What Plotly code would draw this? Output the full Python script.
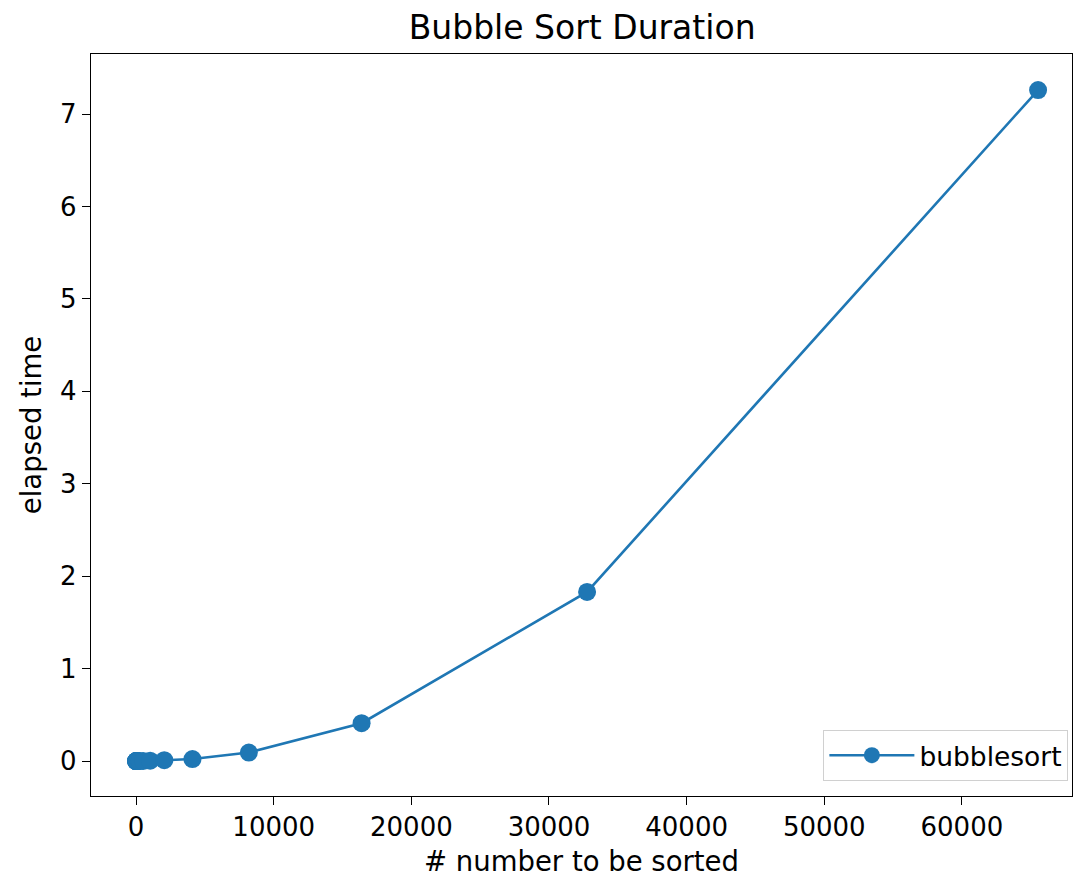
import plotly.graph_objects as go

sizes = [1, 2, 4, 8, 16, 32, 64, 128, 256, 512, 1024, 2048, 4096, 8192, 16384, 32768, 65536]
elapsed = [0.000002, 0.000003, 0.000005, 0.00001, 0.00002, 0.00005, 0.0001, 0.0002,
           0.0004, 0.0012, 0.0045, 0.009, 0.022, 0.092, 0.41, 1.83, 7.26]
x_ticks = [0, 10000, 20000, 30000, 40000, 50000, 60000]
y_ticks = [0, 1, 2, 3, 4, 5, 6, 7]

font = "DejaVu Sans"
fig = go.Figure()
fig.add_trace(go.Scatter(
    x=sizes, y=elapsed, mode="lines+markers", name="bubblesort",
    line=dict(color="#1f77b4", width=2.6),
    marker=dict(color="#1f77b4", size=18),
))

axis_common = dict(
    showline=True, linecolor="black", linewidth=1.3, mirror=True,
    ticks="outside", ticklen=8, tickwidth=1.3, tickcolor="black",
    showgrid=False, zeroline=False, automargin=False,
    tickfont=dict(family=font, size=26, color="black"),
)
fig.update_xaxes(range=[-3276, 68000], tickvals=x_ticks, ticktext=[str(v) for v in x_ticks],
                 title=dict(text="# number to be sorted", font=dict(family=font, size=27.5, color="black"), standoff=10),
                 **axis_common)
fig.update_yaxes(range=[-0.378, 7.65], tickvals=y_ticks,
                 title=dict(text="elapsed time", font=dict(family=font, size=27.5, color="black"), standoff=10),
                 **axis_common)

fig.update_layout(
    width=1075, height=880,
    margin=dict(l=91, r=3, t=54, b=84),
    paper_bgcolor="white", plot_bgcolor="white",
    title=dict(text="Bubble Sort Duration", x=0.5415, xanchor="center", y=0.969, yanchor="middle",
               font=dict(family=font, size=33, color="black")),
    legend=dict(x=0.996, y=0.02, xanchor="right", yanchor="bottom",
                bordercolor="#d0d0d0", borderwidth=1.3, bgcolor="white",
                itemwidth=85,
                font=dict(family=font, size=26.5, color="black")),
    showlegend=True,
)

fig.write_html(
    "out.html",
    config={"displayModeBar": False},
    post_script="document.body.style.margin='0';document.body.style.padding='0';document.body.style.overflow='hidden';document.documentElement.style.overflow='hidden';",
)
